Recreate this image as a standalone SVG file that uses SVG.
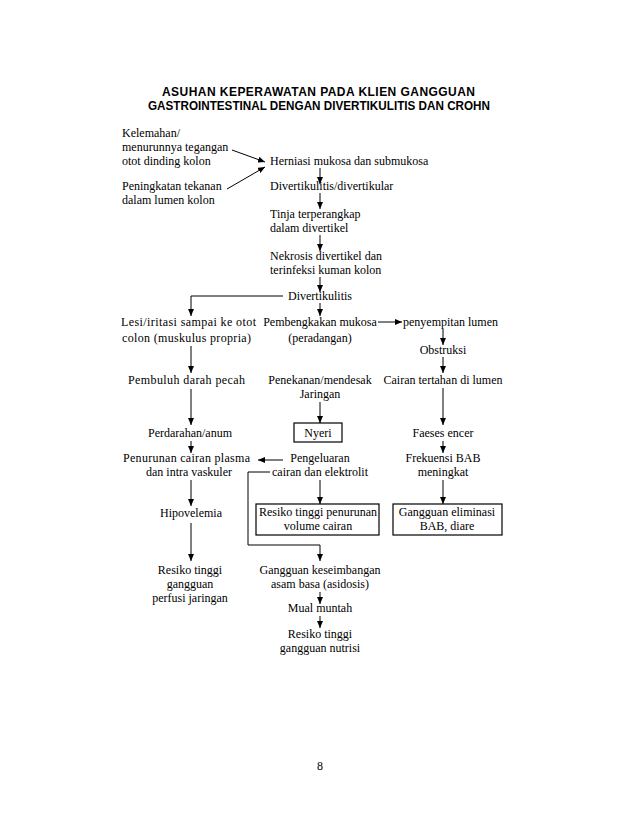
<svg xmlns="http://www.w3.org/2000/svg" width="638" height="826" viewBox="0 0 638 826">
<defs>
<marker id="ah" markerWidth="7" markerHeight="6" refX="7" refY="3" orient="auto" markerUnits="userSpaceOnUse">
<path d="M0,0 L7,3 L0,6 Z" fill="#000"/>
</marker>
<style>
.t{font-family:"Liberation Serif","Times New Roman",serif;font-size:12px;fill:#000}
.m{text-anchor:middle}
.h{font-family:"Liberation Sans",Arial,sans-serif;font-size:12px;font-weight:bold;text-anchor:middle;fill:#000}
.c{fill:none;stroke:#000;stroke-width:1}
.a{marker-end:url(#ah)}
.b{fill:none;stroke:#000;stroke-width:1.2}
</style>
</defs>
<rect width="638" height="826" fill="#fff"/>
<g id="title">
<text class="h" x="318.5" y="96" textLength="313" lengthAdjust="spacing">ASUHAN KEPERAWATAN PADA KLIEN GANGGUAN</text>
<text class="h" x="319" y="110" textLength="342" lengthAdjust="spacingAndGlyphs">GASTROINTESTINAL DENGAN DIVERTIKULITIS DAN CROHN</text>
</g>
<g id="n-kelemahan"><text class="t" x="122" y="137">Kelemahan/</text><text class="t" x="122" y="151">menurunnya tegangan</text><text class="t" x="122" y="165">otot dinding kolon</text></g>
<g id="n-peningkatan"><text class="t" x="122" y="190">Peningkatan tekanan</text><text class="t" x="122" y="204">dalam lumen kolon</text></g>
<g id="n-herniasi"><text class="t" x="270" y="165">Herniasi mukosa dan submukosa</text></g>
<g id="n-divertikular"><text class="t" x="270" y="190">Divertikulitis/divertikular</text></g>
<g id="n-tinja"><text class="t" x="270" y="218">Tinja terperangkap</text><text class="t" x="270" y="232">dalam divertikel</text></g>
<g id="n-nekrosis"><text class="t" x="270" y="260">Nekrosis divertikel dan</text><text class="t" x="270" y="274">terinfeksi kuman kolon</text></g>
<g id="n-divertikulitis"><text class="t" x="288" y="300">Divertikulitis</text></g>
<g id="n-lesi"><text class="t" x="121" y="326" textLength="135" lengthAdjust="spacing">Lesi/iritasi sampai ke otot</text><text class="t" x="122" y="342" textLength="129" lengthAdjust="spacing">colon (muskulus propria)</text></g>
<g id="n-pembengkakan"><text class="t m" x="320" y="326">Pembengkakan mukosa</text><text class="t m" x="320" y="342">(peradangan)</text></g>
<g id="n-penyempitan"><text class="t" x="403" y="326">penyempitan lumen</text></g>
<g id="n-obstruksi"><text class="t m" x="443" y="354">Obstruksi</text></g>
<g id="n-pembuluh"><text class="t" x="128" y="384" textLength="117" lengthAdjust="spacing">Pembuluh darah pecah</text></g>
<g id="n-penekanan"><text class="t m" x="320" y="384">Penekanan/mendesak</text><text class="t m" x="320" y="398">Jaringan</text></g>
<g id="n-cairan"><text class="t m" x="443" y="384">Cairan tertahan di lumen</text></g>
<g id="n-perdarahan"><text class="t m" x="190" y="437">Perdarahan/anum</text></g>
<g id="n-nyeri"><rect class="b" x="294" y="423" width="48" height="19"/><text class="t m" x="318" y="437">Nyeri</text></g>
<g id="n-faeses"><text class="t m" x="443" y="437">Faeses encer</text></g>
<g id="n-penurunan"><text class="t" x="123" y="462" textLength="127" lengthAdjust="spacing">Penurunan cairan plasma</text><text class="t m" x="189" y="476">dan intra vaskuler</text></g>
<g id="n-pengeluaran"><text class="t m" x="320" y="462">Pengeluaran</text><text class="t m" x="320" y="476">cairan dan elektrolit</text></g>
<g id="n-frekuensi"><text class="t m" x="443" y="462">Frekuensi BAB</text><text class="t m" x="443" y="476">meningkat</text></g>
<g id="n-hipovelemia"><text class="t m" x="191" y="517">Hipovelemia</text></g>
<g id="n-resiko-volume"><rect class="b" x="256" y="504" width="123" height="31"/><text class="t m" x="318" y="516">Resiko tinggi penurunan</text><text class="t m" x="318" y="530">volume cairan</text></g>
<g id="n-eliminasi"><rect class="b" x="393" y="504" width="109" height="31"/><text class="t m" x="447" y="516">Gangguan eliminasi</text><text class="t m" x="447" y="530">BAB, diare</text></g>
<g id="n-perfusi"><text class="t m" x="190" y="574">Resiko tinggi</text><text class="t m" x="190" y="588">gangguan</text><text class="t m" x="190" y="602">perfusi jaringan</text></g>
<g id="n-asidosis"><text class="t m" x="320" y="574">Gangguan keseimbangan</text><text class="t m" x="320" y="588">asam basa (asidosis)</text></g>
<g id="n-mual"><text class="t m" x="320" y="612">Mual muntah</text></g>
<g id="n-nutrisi"><text class="t m" x="320" y="638">Resiko tinggi</text><text class="t m" x="320" y="652">gangguan nutrisi</text></g>
<g id="page"><text class="t m" x="320" y="770">8</text></g>
<g id="connectors">
<path class="c a" d="M232,150 L265,162"/>
<path class="c a" d="M227,189 L265,167"/>
<path class="c a" d="M320,168 L320,184"/>
<path class="c a" d="M320,193 L320,209"/>
<path class="c a" d="M320,235 L320,251"/>
<path class="c a" d="M320,277 L320,292"/>
<path class="c a" d="M283,296 L191,296 L191,316"/>
<path class="c a" d="M320,303 L320,316"/>
<path class="c a" d="M378,322 L402,322"/>
<path class="c a" d="M443,329 L443,345"/>
<path class="c a" d="M443,357 L443,373"/>
<path class="c a" d="M443,388 L443,425"/>
<path class="c a" d="M443,441 L443,453"/>
<path class="c a" d="M443,480 L443,504"/>
<path class="c a" d="M191,346 L191,373"/>
<path class="c a" d="M191,389 L191,425"/>
<path class="c a" d="M191,441 L191,453"/>
<path class="c a" d="M191,480 L191,506"/>
<path class="c a" d="M191,523 L191,561"/>
<path class="c a" d="M320,402 L320,423"/>
<path class="c a" d="M283,460 L258,460"/>
<path class="c a" d="M320,480 L320,504"/>
<path class="c a" d="M270,472 L248,472 L248,545 L320,545 L320,561"/>
<path class="c a" d="M320,592 L320,604"/>
<path class="c a" d="M320,616 L320,628"/>
</g>
</svg>
